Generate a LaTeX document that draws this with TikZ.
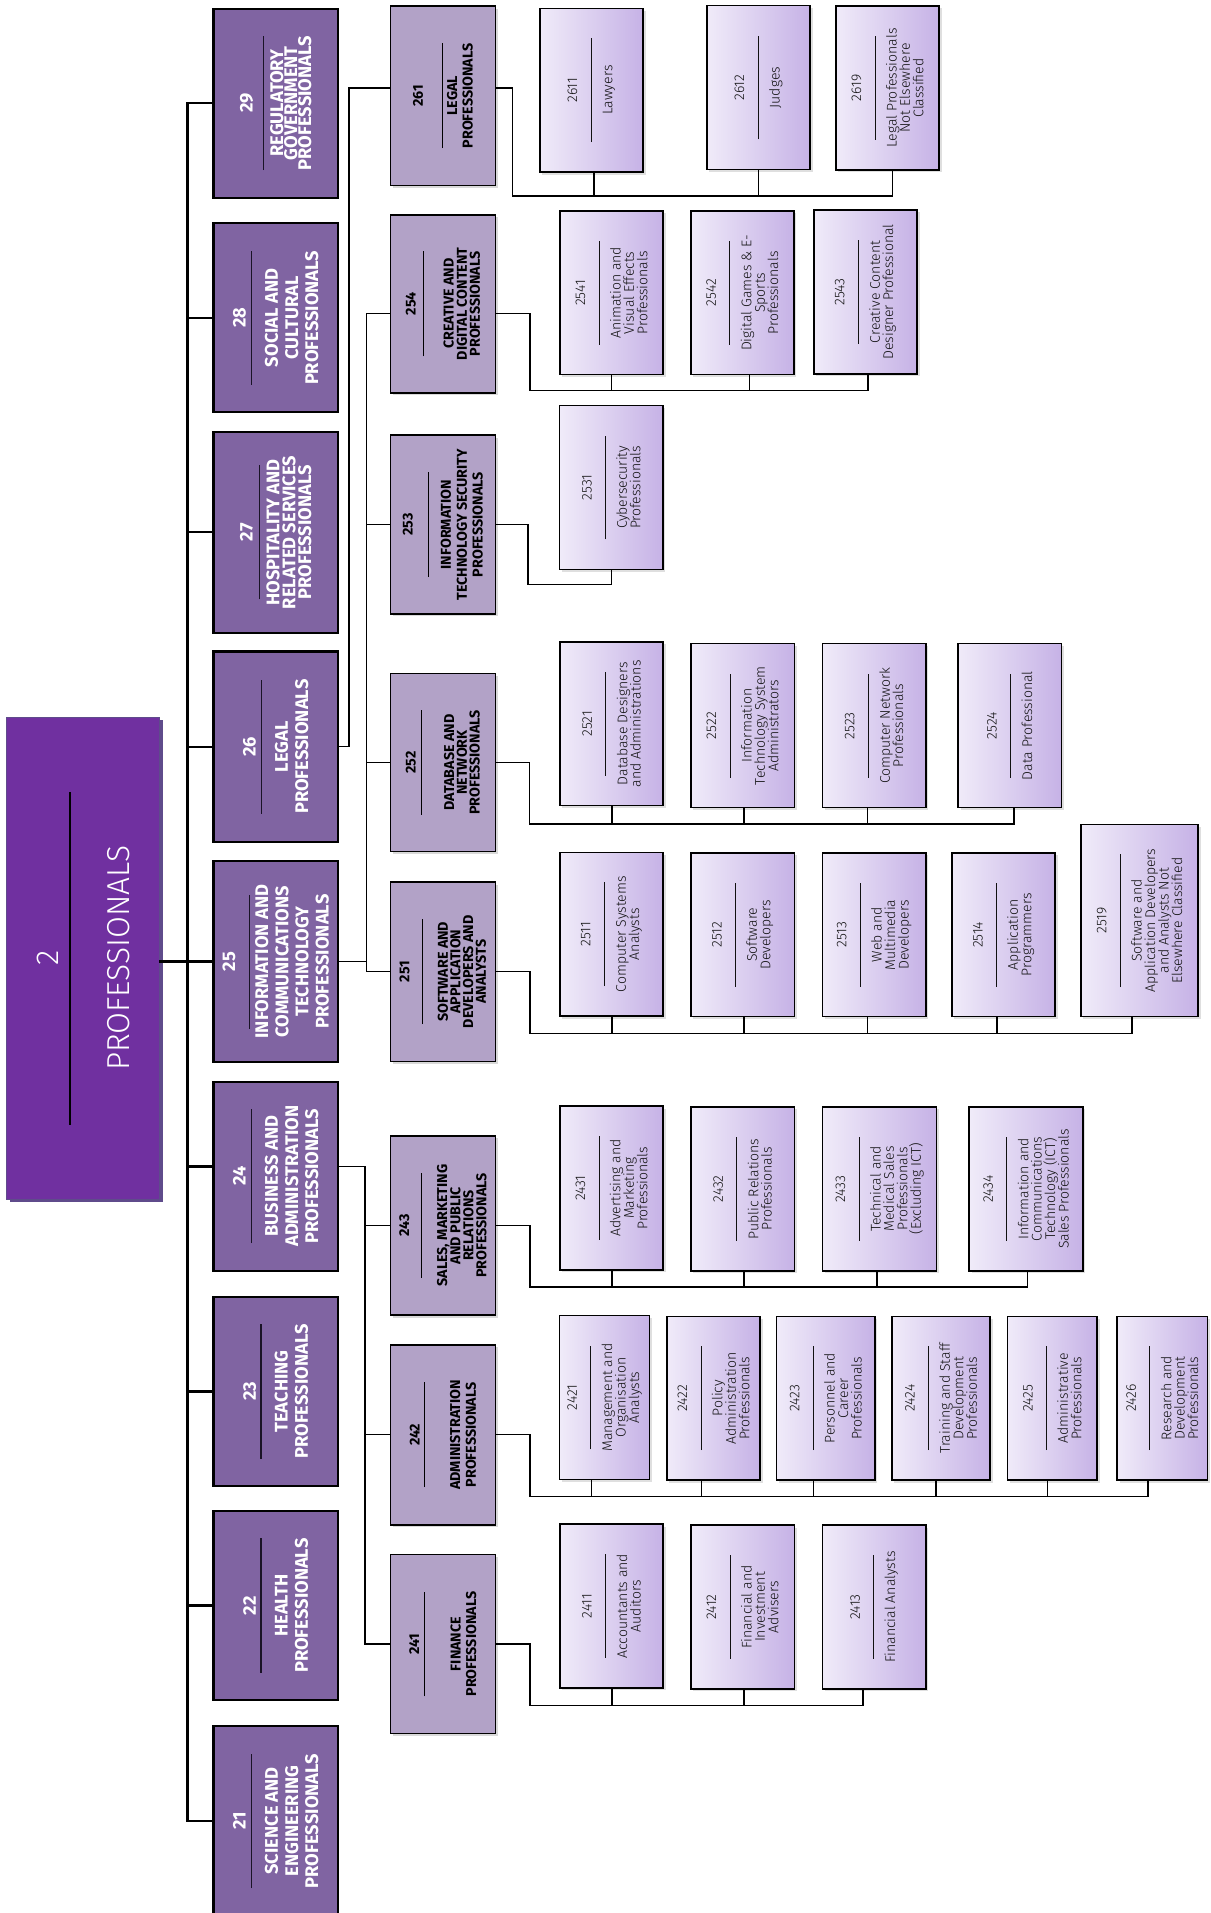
\documentclass[tikz,border=0pt]{standalone}
\usepackage{fontspec}
\usepackage{graphicx}
\setmainfont{Fira Sans}
\newfontfamily\lightfont{Fira Sans Light}
\usetikzlibrary{shadows}
\definecolor{rootfill}{HTML}{7030A0}
\definecolor{rootedge}{HTML}{5F4B8B}
\definecolor{lonefill}{HTML}{8064A2}
\definecolor{lonerule}{HTML}{1A1326}
\definecolor{ltwofill}{HTML}{B2A2C7}
\definecolor{lthreeL}{HTML}{F0EBF9}
\definecolor{lthreeR}{HTML}{C6B2E6}
\definecolor{lthreetext}{HTML}{111111}

\tikzset{
  boxbase/.style={inner sep=0pt, outer sep=0pt},
  rootbox/.style={boxbase, draw=rootedge, line width=1pt, fill=rootfill,
    drop shadow={shadow xshift=2.5pt, shadow yshift=-2.5pt, fill=rootedge, opacity=1}},
  lonebox/.style={boxbase, draw=black, line width=1.7pt, fill=lonefill, minimum width=102pt},
  ltwobox/.style={boxbase, draw=black, line width=1.3pt, fill=ltwofill, minimum width=86pt,
    drop shadow={shadow xshift=2pt, shadow yshift=-2pt, opacity=0.3}},
  lthreebox/.style={boxbase, draw=black, line width=1.2pt, left color=lthreeL, right color=lthreeR,
    minimum width=84.6pt, minimum height=134.3pt,
    drop shadow={shadow xshift=2pt, shadow yshift=-2pt, opacity=0.25}},
  grouptext/.style={rotate=90, align=center, inner sep=0pt, outer sep=0pt},
  conn/.style={line width=1.2pt, line cap=rect},
  spine/.style={line width=1.9pt, line cap=rect},
}

% level 1: name, cy, h, baselineskip, extra1, extra2, number, label
\newcommand{\Lone}[8]{%
  \node[lonebox, minimum height=#3pt] (#1) at (226,#2) {};
  \node[grouptext, text=white, font={\lineskiplimit=-100pt\bfseries\fontsize{15}{#4}\selectfont}] (#1t) at (#1.center)
    {#7\\[#5pt]\textcolor{lonerule}{\rule[5.2pt]{110pt}{1.2pt}}\\[#6pt]#8};
}
% level 2
\newcommand{\Ltwo}[8]{%
  \node[ltwobox, minimum height=#3pt] (#1) at (363,#2) {};
  \node[grouptext, text=black, font={\lineskiplimit=-100pt\bfseries\fontsize{11.7}{#4}\selectfont}] (#1t) at (#1.center)
    {#7\\[#5pt]\rule[4pt]{86pt}{1pt}\\[#6pt]#8};
}
% level 3: [opts], name, x, y, number, label, rule length
\newcommand{\Lthree}[7][]{%
  \node[lthreebox, #1] (#2) at (#3,#4) {};
  \node[grouptext, text=lthreetext, font={\lineskiplimit=-100pt\lightfont\fontsize{11.5}{11}\selectfont}] (#2t) at (#2.center)
    {#5\\[4.9pt]\rule[4pt]{#7pt}{0.8pt}\\[2.1pt]#6};
}
% stub from a bus up to a child
\newcommand{\Stub}[3]{%
  \coordinate (s#1) at ([xshift=#2pt]#1.south);
  \draw[conn] (s#1 |- #3) -- (s#1);
}

\begin{document}
\begin{tikzpicture}[x=1pt, y=-1pt]
\useasboundingbox (0,0) rectangle (992.6,1568);

% root
\node[rootbox, minimum width=125.4pt, minimum height=395pt] (root) at (68.3,785.5) {};
\node[grouptext, text=white, font={\lineskiplimit=-100pt\lightfont\fontsize{26}{30}\selectfont}] (roott) at (root.center)
  {2\\[-10.4pt]\textcolor{black}{\rule[9pt]{273pt}{1.6pt}}\\[8.4pt]PROFESSIONALS};

% level 1
\Lone{b29}{84.5}{155}{11.5}{3.1}{-1.1}{29}{REGULATORY\\GOVERNMENT\\PROFESSIONALS}
\Lone{b28}{260.5}{155}{16.5}{-5.9}{-0.6}{28}{SOCIAL AND\\CULTURAL\\PROFESSIONALS}
\Lone{b27}{436.3}{164.6}{13}{-1.4}{-2.6}{27}{HOSPITALITY AND\\RELATED SERVICES\\PROFESSIONALS}
\Lone{b26}{612}{156}{16.5}{-5.9}{-0.6}{26}{LEGAL\\PROFESSIONALS}
\Lone{b25}{788.2}{164.5}{16.5}{1.1}{-7.1}{25}{INFORMATION AND\\COMMUNICATIONS\\TECHNOLOGY\\PROFESSIONALS}
\Lone{b24}{964}{155}{16.5}{-5.9}{-0.6}{24}{BUSINESS AND\\ADMINISTRATION\\PROFESSIONALS}
\Lone{b23}{1140.5}{155}{16.5}{-6.4}{-0.6}{23}{TEACHING\\PROFESSIONALS}
\Lone{b22}{1316}{155}{16.5}{-6.4}{-0.6}{22}{HEALTH\\PROFESSIONALS}
\Lone{b21}{1492.5}{155}{16.5}{-5.9}{-0.6}{21}{SCIENCE AND\\ENGINEERING\\PROFESSIONALS}

% level 2
\Ltwo{n261}{78.5}{147}{12.6}{8.3}{-5.3}{261}{LEGAL\\PROFESSIONALS}
\Ltwo{n254}{249}{146}{10.7}{0.2}{9.7}{254}{CREATIVE AND\\DIGITAL CONTENT\\PROFESSIONALS}
\Ltwo{n253}{430}{146.5}{13}{4.2}{1.2}{253}{INFORMATION\\TECHNOLOGY SECURITY\\PROFESSIONALS}
\Ltwo{n252}{625}{146}{10.5}{-1.5}{12}{252}{DATABASE AND\\NETWORK\\PROFESSIONALS}
\Ltwo{n251}{796.5}{147}{10.4}{4.7}{5.9}{251}{SOFTWARE AND\\APPLICATION\\DEVELOPERS AND\\ANALYSTS}
\Ltwo{n243}{1004.5}{147}{10.7}{3.8}{6.1}{243}{SALES, MARKETING\\AND PUBLIC\\RELATIONS\\PROFESSIONALS}
\Ltwo{n242}{1176}{147.5}{13}{-4.3}{11.5}{242}{ADMINISTRATION\\PROFESSIONALS}
\Ltwo{n241}{1347.5}{147}{12.8}{-3.7}{12.1}{241}{FINANCE\\PROFESSIONALS}

% level 3
\Lthree{c2611}{484.8}{73.9}{2611}{Lawyers}{85}
\Lthree{c2612}{621.8}{71.8}{2612}{Judges}{85}
\Lthree{c2619}{727.5}{72.1}{2619}{Legal Professionals\\Not Elsewhere\\Classified}{85}

\Lthree{c2541}{501.3}{240}{2541}{Animation and\\Visual Effects\\Professionals}{85}
\Lthree{c2542}{608.5}{240}{2542}{Digital Games \& E-\\Sports\\Professionals}{85}
\Lthree{c2543}{709.4}{239.3}{2543}{Creative Content\\Designer Professional}{85}

\Lthree{c2531}{501}{399.5}{2531}{Cybersecurity\\Professionals}{85}

\Lthree{c2521}{501.3}{593.2}{2521}{Database Designers\\and Administrations}{85}
\Lthree{c2522}{608.7}{594.8}{2522}{Information\\Technology System\\Administrators}{85}
\Lthree{c2523}{716.5}{594.8}{2523}{Computer Network\\Professionals}{85}
\Lthree{c2524}{827.6}{594.8}{2524}{Data Professional}{85}

\Lthree{c2511}{501.2}{765.7}{2511}{Computer Systems\\Analysts}{85}
\Lthree{c2512}{608.7}{766.2}{2512}{Software\\Developers}{85}
\Lthree{c2513}{716.5}{766.2}{2513}{Web and\\Multimedia\\Developers}{85}
\Lthree{c2514}{822.6}{766.2}{2514}{Application\\Programmers}{85}
\Lthree[minimum width=96pt, minimum height=157.3pt]{c2519}{934}{754.6}{2519}{Software and\\Application Developers\\and Analysts Not\\Elsewhere Classified}{109}

\Lthree{c2431}{501.2}{973.8}{2431}{Advertising and\\Marketing\\Professionals}{85}
\Lthree{c2432}{608.7}{974.5}{2432}{Public Relations\\Professionals}{85}
\Lthree[minimum width=93.4pt]{c2433}{721}{974.5}{2433}{Technical and\\Medical Sales\\Professionals\\(Excluding ICT)}{85}
\Lthree[minimum width=93.4pt]{c2434}{841}{974.5}{2434}{Information and\\Communications\\Technology (ICT)\\Sales Professionals}{85}

\Lthree[minimum width=73.6pt]{c2421}{495.6}{1145.4}{2421}{Management and\\Organisation\\Analysts}{85}
\Lthree[minimum width=76.4pt]{c2422}{584.8}{1146}{2422}{Policy\\Administration\\Professionals}{85}
\Lthree[minimum width=80.4pt]{c2423}{676.8}{1146}{2423}{Personnel and\\Career\\Professionals}{85}
\Lthree[minimum width=80.5pt]{c2424}{771.3}{1146}{2424}{Training and Staff\\Development\\Professionals}{85}
\Lthree[minimum width=73.5pt]{c2425}{862.5}{1146}{2425}{Administrative\\Professionals}{85}
\Lthree[minimum width=74pt]{c2426}{952.7}{1146}{2426}{Research and\\Development\\Professionals}{85}

\Lthree{c2411}{501.2}{1316.4}{2411}{Accountants and\\Auditors}{85}
\Lthree{c2412}{608.7}{1317.2}{2412}{Financial and\\Investment\\Advisers}{85}
\Lthree{c2413}{716.5}{1317.2}{2413}{Financial Analysts}{85}

% ---------- connectors ----------
% spine
\coordinate (sp) at (153.7,0);
\coordinate (p24) at ([yshift=8pt]b24.west);
\coordinate (p24e) at ([yshift=8pt]b24.east);
\draw[spine] (sp |- b29.west) -- (sp |- b21.west);
\foreach \b in {b29,b28,b27,b26,b23,b22,b21} {\draw[spine] (sp |- \b.west) -- (\b.west);}
\draw[spine] (sp |- p24) -- (p24);
\draw[spine] (root.east |- b25.west) -- (b25.west);

% 26 -> 261
\coordinate (j26) at (286,0);
\coordinate (p261w) at ([yshift=6.5pt]n261.west);
\coordinate (p261e) at ([yshift=6.5pt]n261.east);
\draw[conn] (b26.east) -- (j26 |- b26.east) -- (j26 |- p261w) -- (p261w);

% 25 -> 254..251
\coordinate (j25) at (300.5,0);
\coordinate (p254w) at ([yshift=-8pt]n254.west);
\coordinate (p254e) at ([yshift=-8pt]n254.east);
\draw[conn] (b25.east) -- (j25 |- b25.east);
\draw[conn] (p254w) -- (j25 |- p254w) -- (j25 |- n251.west) -- (n251.west);
\draw[conn] (j25 |- n253.west) -- (n253.west);
\draw[conn] (j25 |- n252.west) -- (n252.west);

% 24 -> 243..241
\coordinate (j24) at (299,0);
\draw[conn] (p24e) -- (j24 |- p24e) -- (j24 |- n241.west) -- (n241.west);
\draw[conn] (j24 |- n243.west) -- (n243.west);
\draw[conn] (j24 |- n242.west) -- (n242.west);

% 261 bus
\coordinate (bus261) at (420,160.7);
\Stub{c2611}{2.2}{bus261}
\Stub{c2612}{0}{bus261}
\Stub{c2619}{4.2}{bus261}
\draw[conn] (p261e) -| (bus261) -- (sc2619 |- bus261);

% 254 bus
\coordinate (bus254) at (434.5,320);
\Stub{c2541}{0}{bus254}
\Stub{c2542}{6}{bus254}
\Stub{c2543}{2.2}{bus254}
\draw[conn] (p254e) -| (bus254) -- (sc2543 |- bus254);

% 253 bus
\coordinate (bus253) at (432.8,479);
\Stub{c2531}{0.4}{bus253}
\draw[conn] (n253.east) -| (bus253) -- (sc2531 |- bus253);

% 252 bus
\coordinate (bus252) at (434,675.4);
\Stub{c2521}{0.3}{bus252}
\Stub{c2522}{1.3}{bus252}
\Stub{c2523}{-5.5}{bus252}
\Stub{c2524}{3.4}{bus252}
\draw[conn] (n252.east) -| (bus252) -- (sc2524 |- bus252);

% 251 bus
\coordinate (bus251) at (434.4,847);
\Stub{c2511}{0.5}{bus251}
\Stub{c2512}{1.3}{bus251}
\Stub{c2513}{-5.5}{bus251}
\Stub{c2514}{-5.6}{bus251}
\Stub{c2519}{-6}{bus251}
\draw[conn] (n251.east) -| (bus251) -- (sc2519 |- bus251);

% 243 bus
\coordinate (bus243) at (434.4,1055);
\Stub{c2431}{0.5}{bus243}
\Stub{c2432}{1.3}{bus243}
\Stub{c2433}{-2}{bus243}
\Stub{c2434}{1}{bus243}
\draw[conn] (n243.east) -| (bus243) -- (sc2434 |- bus243);

% 242 bus
\coordinate (bus242) at (434.4,1226.8);
\Stub{c2421}{-11}{bus242}
\Stub{c2422}{-10}{bus242}
\Stub{c2423}{-10}{bus242}
\Stub{c2424}{-4}{bus242}
\Stub{c2425}{-4}{bus242}
\Stub{c2426}{-11.7}{bus242}
\draw[conn] (n242.east) -| (bus242) -- (sc2426 |- bus242);

% 241 bus
\coordinate (bus241) at (434.4,1398);
\Stub{c2411}{0.5}{bus241}
\Stub{c2412}{1.3}{bus241}
\Stub{c2413}{-9.3}{bus241}
\draw[conn] (n241.east) -| (bus241) -- (sc2413 |- bus241);
\end{tikzpicture}
\end{document}
